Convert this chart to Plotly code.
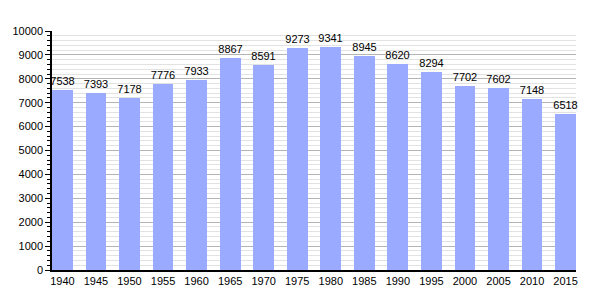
import plotly.graph_objects as go

years = ["1940", "1945", "1950", "1955", "1960", "1965", "1970", "1975",
         "1980", "1985", "1990", "1995", "2000", "2005", "2010", "2015"]
population = [7538, 7393, 7178, 7776, 7933, 8867, 8591, 9273,
              9341, 8945, 8620, 8294, 7702, 7602, 7148, 6518]

idx = list(range(len(years)))
fig = go.Figure(go.Bar(
    x=idx, y=population, width=0.62,
    marker=dict(color="#99aaff", line=dict(width=0)),
    text=[str(v) for v in population], textposition="outside",
    textfont=dict(color="black", size=11, family="Liberation Sans, Arial"),
    constraintext="none",
    cliponaxis=False,
))
fig.update_layout(
    width=605, height=300,
    margin=dict(l=50, r=29, t=31, b=30),
    plot_bgcolor="white", paper_bgcolor="white",
    font=dict(family="Liberation Sans, Arial", size=11, color="black"),
    showlegend=False,
    bargap=0,
)
fig.update_xaxes(
    range=[-0.31, len(years) - 1 + 0.31],
    tickmode="array", tickvals=idx, ticktext=years,
    showgrid=False, showline=True, linecolor="black", linewidth=1.5,
    ticks="", zeroline=False,
)
fig.update_yaxes(
    range=[0, 10000], dtick=1000, tick0=0, tickformat="d",
    showgrid=True, gridcolor="#b4b4b4", gridwidth=1,
    showline=True, linecolor="black", linewidth=1.5,
    ticks="outside", ticklen=5, tickcolor="black",
    minor=dict(dtick=200, showgrid=True, gridcolor="#e2e2e2", gridwidth=1,
               ticks="outside", ticklen=3, tickcolor="black"),
    zeroline=False,
)
fig.write_html("out.html")
